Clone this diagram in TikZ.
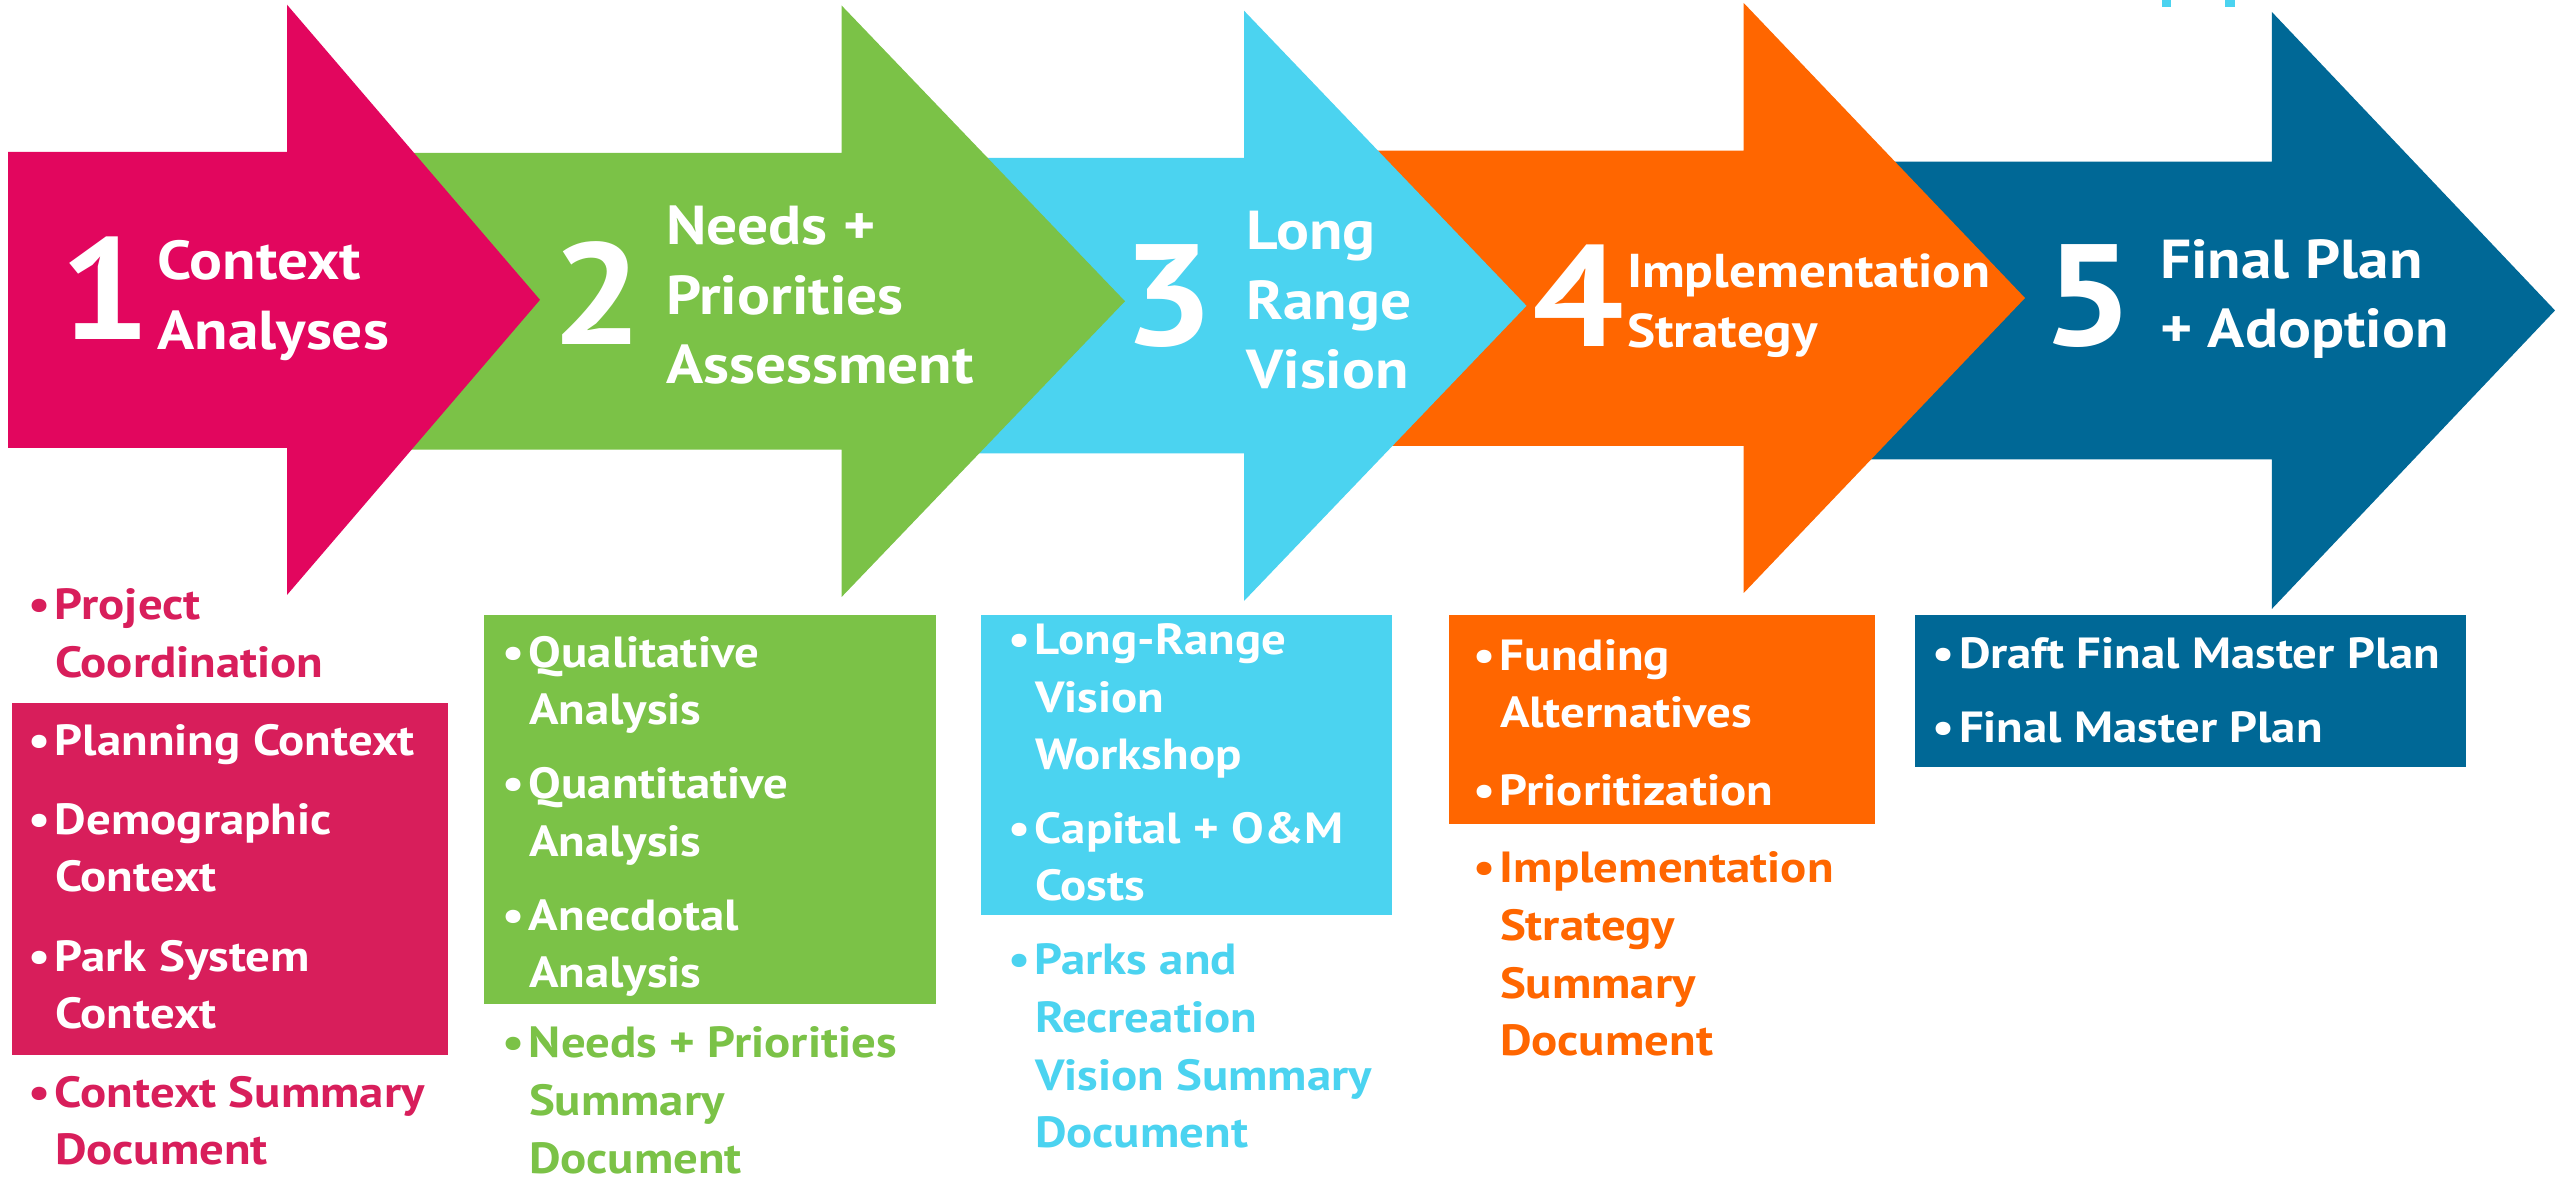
\documentclass[tikz,border=0pt]{standalone}
\usepackage{fontspec}
\setmainfont{PT Sans}[FakeStretch=1.12]
\usepackage{xcolor}

\definecolor{phasemagenta}{HTML}{E2065E}
\definecolor{listmagenta}{HTML}{D81E5B}
\definecolor{phasegreen}{HTML}{7BC247}
\definecolor{phasecyan}{HTML}{4BD3F0}
\definecolor{phaseorange}{HTML}{FF6600}
\definecolor{phaseblue}{HTML}{006896}

\tikzset{
  every node/.style = {inner sep=0pt, outer sep=0pt}
}
\tikzset{
  phase number/.style = {anchor=base west, text=white,
    font=\bfseries\fontsize{41}{41}\selectfont},
  phase title/.style = {anchor=base west, align=left, text=white,
    font=\bfseries\fontsize{15.6}{19.9}\selectfont},
  list item/.style = {anchor=base west, align=left,
    font=\bfseries\fontsize{12.4}{16.4}\selectfont}
}
% colour, left, top, bottom, head base, head top, tip x, head bottom
\newcommand{\phasearrow}[8]{
  \fill[#1] (#2,#3) -- (#5,#3) -- (#5,#6) -- (#7,{(#6+#8)/2})
    -- (#5,#8) -- (#5,#4) -- (#2,#4) -- cycle;
}
\newcommand{\bul}{\llap{\textbullet\hspace{1.2pt}}}

\begin{document}
\begin{tikzpicture}[x=0.01cm, y=-0.01cm]
  \useasboundingbox (0,0) rectangle (2560,1180);

  % arrows, last one first
  \phasearrow{phaseblue}{1800}{161.7}{459.5}{2271.8}{11.9}{2555}{609}
  \phasearrow{phaseorange}{1300}{150.6}{446}{1743.7}{3}{2025}{593}
  \phasearrow{phasecyan}{900}{158}{453.5}{1244}{10.7}{1526.5}{601}
  \phasearrow{phasegreen}{300}{153}{449.6}{841.6}{5.5}{1125}{597}
  \phasearrow{phasemagenta}{8}{152}{448}{287}{4.7}{540}{595}

  \fill[phasecyan] (2161.7,0) rectangle (2171,7);
  \fill[phasecyan] (2225,0) rectangle (2235,7);

  % base anchor of a multi-line node = its last line
  \node[phase number] (num1) at (60,340) {1};
  \node[phase title] (title1) at (157.5,349.5) {Context\\Analyses};
  \node[phase number] (num2) at (551,345) {2};
  \node[phase title] (title2) at (666,384) {Needs +\\Priorities\\Assessment};
  \node[phase number] (num3) at (1122,346) {3};
  \node[phase title] (title3) at (1246.5,389) {Long\\Range\\Vision};
  \node[phase number] (num4) at (1532,347) {4};
  \node[phase title, font=\bfseries\fontsize{13.5}{17.2}\selectfont]
    (title4) at (1627,348) {Implementation\\Strategy};
  \node[phase number] (num5) at (2042,346) {5};
  \node[phase title] (title5) at (2160,348) {Final Plan\\+ Adoption};

  % phase 1 list
  \fill[listmagenta] (12,703.3) rectangle (447.7,1054.6);
  \node[list item, text=listmagenta] (coord) at (55,677.4) {\bul Project\\Coordination};
  \node[list item, text=white] (planctx) at (55,756) {\bul Planning Context};
  \node[list item, text=white] (democtx) at (55,892) {\bul Demographic\\Context};
  \node[list item, text=white] (parkctx) at (55,1029) {\bul Park System\\Context};
  \node[list item, text=listmagenta] (ctxdoc) at (55,1165) {\bul Context Summary\\Document};

  % phase 2 list
  \fill[phasegreen] (484,615) rectangle (936,1004.4);
  \node[list item, text=white] (quali) at (529,725) {\bul Qualitative\\Analysis};
  \node[list item, text=white] (quanti) at (529,856.5) {\bul Quantitative\\Analysis};
  \node[list item, text=white] (anec) at (529,988) {\bul Anecdotal\\Analysis};
  \node[list item, text=phasegreen] (needsdoc) at (529,1173) {\bul Needs + Priorities\\Summary\\Document};

  % phase 3 list
  \fill[phasecyan] (981,615) rectangle (1391.8,915.5);
  \node[list item, text=white] (workshop) at (1035,770) {\bul Long-Range\\Vision\\Workshop};
  \node[list item, text=white] (costs) at (1035,901) {\bul Capital + O\&M\\Costs};
  \node[list item, text=phasecyan] (visiondoc) at (1035,1148) {\bul Parks and\\Recreation\\Vision Summary\\Document};

  % phase 4 list
  \fill[phaseorange] (1449,615) rectangle (1875,824.3);
  \node[list item, text=white] (funding) at (1500,728) {\bul Funding\\Alternatives};
  \node[list item, text=white] (prior) at (1500,806) {\bul Prioritization};
  \node[list item, text=phaseorange] (impldoc) at (1500,1056) {\bul Implementation\\Strategy\\Summary\\Document};

  % phase 5 list
  \fill[phaseblue] (1915,615) rectangle (2466,766.8);
  \node[list item, text=white] (draft) at (1959,668.7) {\bul Draft Final Master Plan};
  \node[list item, text=white] (final) at (1959,742.7) {\bul Final Master Plan};
\end{tikzpicture}
\end{document}
